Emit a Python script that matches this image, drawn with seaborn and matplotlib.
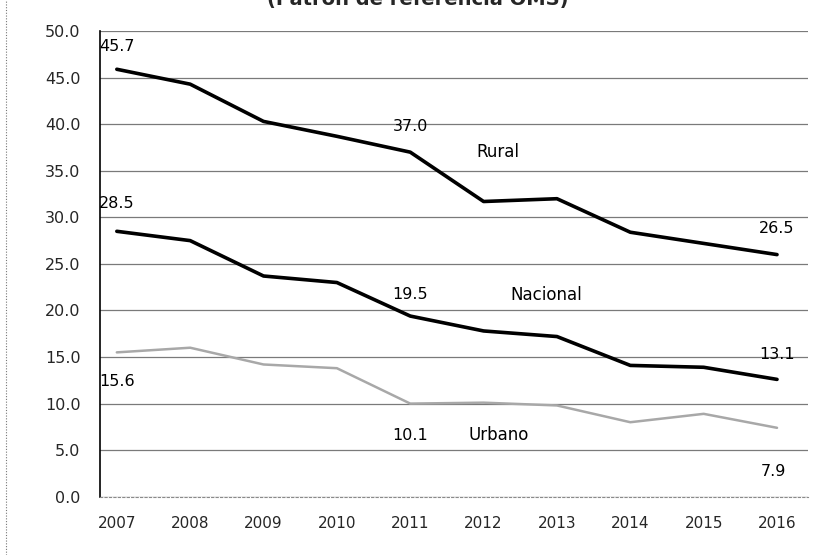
import pandas as pd
import numpy as np
import matplotlib
matplotlib.use('Agg')
import matplotlib.pyplot as plt
from matplotlib.lines import Line2D
import seaborn as sns

# Values
years = [2007, 2008, 2009, 2010, 2011, 2012, 2013, 2014, 2015, 2016]
rural = [45.9, 44.3, 40.3, 38.7, 37.0, 31.7, 32.0, 28.4, 27.2, 26.0]
nacional = [28.5, 27.5, 23.7, 23.0, 19.4, 17.8, 17.2, 14.1, 13.9, 12.6]
urbano = [15.5, 16.0, 14.2, 13.8, 10.0, 10.1, 9.8, 8.0, 8.9, 7.4]

# value labels as printed in the chart: (text, year, y)
value_labels = [
    ('45.7', 2007, 48.3), ('37.0', 2011, 39.8), ('26.5', 2016, 28.8),
    ('28.5', 2007, 31.5), ('19.5', 2011, 21.7), ('13.1', 2016, 15.3),
    ('15.6', 2007, 12.4), ('10.1', 2011, 6.6), ('7.9', 2015.95, 2.7),
]
series_labels = [('Rural', 2012.2, 37.0), ('Nacional', 2012.85, 21.7), ('Urbano', 2012.2, 6.6)]

df = pd.DataFrame({'year': years, 'Rural': rural, 'Nacional': nacional, 'Urbano': urbano})

sns.set_style('white')
plt.rcParams['font.family'] = ['DejaVu Sans']

fig = plt.figure(figsize=(8.26, 5.55), dpi=100)
ax = fig.add_axes([0.121, 0.105, 0.857, 0.839])

sns.lineplot(data=df, x='year', y='Urbano', color='#a8a8a8', lw=1.8, ax=ax)
sns.lineplot(data=df, x='year', y='Nacional', color='black', lw=2.6, ax=ax)
sns.lineplot(data=df, x='year', y='Rural', color='black', lw=2.6, ax=ax)

ax.set_ylim(0, 50)
ax.set_xlim(2006.77, 2016.42)
ax.set_yticks(np.arange(0, 50.1, 5))
ax.set_yticklabels([f'{v:.1f}' for v in np.arange(0, 50.1, 5)])
ax.set_xticks(years)
ax.set_xticks(np.array(years[:-1]) + 0.5, minor=True)
ax.grid(axis='y', color='#7a7a7a', lw=0.9)
ax.set_axisbelow(True)
ax.set_xlabel('')
ax.set_ylabel('')

for side in ['top', 'right']:
    ax.spines[side].set_visible(False)
ax.spines['left'].set_color('black')
ax.spines['left'].set_linewidth(1.2)
ax.spines['bottom'].set_color('#8a8a8a')
ax.spines['bottom'].set_linestyle((0, (2, 2)))

ax.tick_params(axis='x', which='major', length=0, pad=14, labelsize=11)
ax.tick_params(axis='x', which='minor', length=4, direction='out', color='#555555')
ax.tick_params(axis='y', length=4, color='#777777', labelsize=11.5, pad=10)

for txt, x, y in value_labels:
    ax.text(x, y, txt, ha='center', va='center', fontsize=11.5, color='black')
for txt, x, y in series_labels:
    ax.text(x, y, txt, ha='center', va='center', fontsize=12, color='black')

# title is cut off at the top of the scan
fig.text(0.506, 1.0, '(Patrón de referencia OMS)', ha='center', va='center',
         fontsize=14, fontweight='bold')

# dotted border of the original chart area
fig.add_artist(Line2D([0.007, 0.007], [0.0, 1.0], transform=fig.transFigure,
                      color='#777777', lw=0.8, ls=(0, (1, 1.5))))

plt.savefig('out.png', dpi=100)
plt.close()
